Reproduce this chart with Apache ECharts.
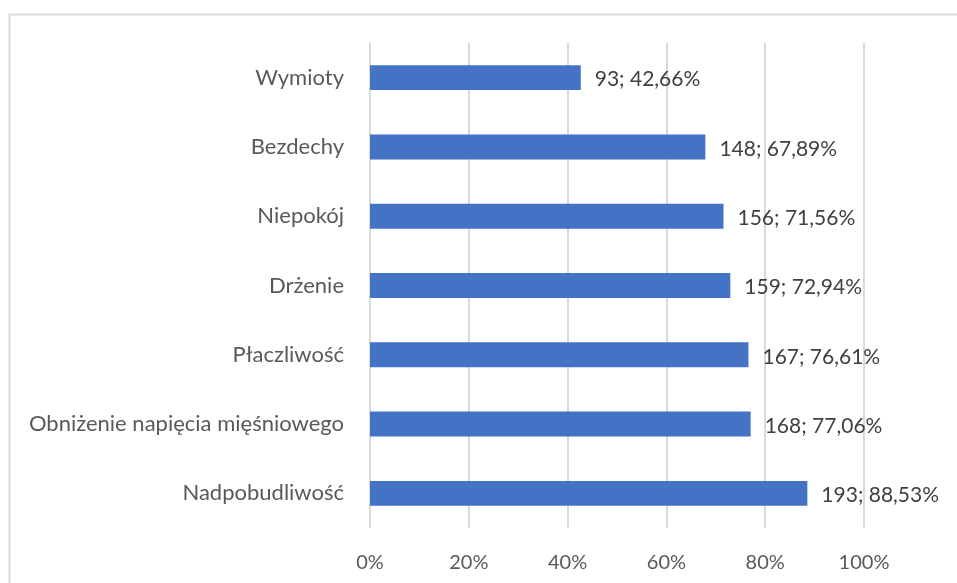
<!DOCTYPE html>
<html><head><meta charset="utf-8">
<script src="https://cdn.jsdelivr.net/npm/echarts@6/dist/echarts.min.js"></script>
<style>html,body{margin:0;padding:0;background:#fff}#c{width:957px;height:583px}</style>
</head><body><div id="c"></div>
<script>
const categories = ["Wymioty","Bezdechy","Niepokój","Drżenie","Płaczliwość","Obniżenie napięcia mięśniowego","Nadpobudliwość"];
const counts = [93,148,156,159,167,168,193];
const percents = [42.66,67.89,71.56,72.94,76.61,77.06,88.53];
const ticks = ["0%","20%","40%","60%","80%","100%"];

const chart = echarts.init(document.getElementById('c'));
const font = 'Lato, "Open Sans", sans-serif';
chart.setOption({
  animation:false,
  graphic:[{type:'rect',shape:{x:9.5,y:14.5,width:960,height:600},style:{fill:'none',stroke:'#d9d9d9',lineWidth:2}}],
  grid:{left:370,right:93,top:43,bottom:55,containLabel:false},
  xAxis:{type:'value',min:0,max:100,interval:20,
    axisLine:{show:false},axisTick:{show:false},
    splitLine:{lineStyle:{color:'#d9d9d9',width:2}},
    axisLabel:{formatter:(v)=>ticks[Math.round(v/20)],color:'#595959',fontSize:20,fontFamily:font,margin:25}},
  yAxis:{type:'category',data:categories,inverse:true,
    axisLine:{show:false},axisTick:{show:false},
    axisLabel:{color:'#595959',fontSize:22,fontFamily:font,margin:26}},
  series:[{type:'bar',data:percents,barWidth:'36%',itemStyle:{color:'#4472c4'},
    label:{show:true,position:'right',distance:14,offset:[0,2],color:'#404040',fontSize:21,fontFamily:font,
      formatter:(p)=>counts[p.dataIndex]+'; '+percents[p.dataIndex].toFixed(2).replace('.',',')+'%'}}]
});
</script></body></html>
